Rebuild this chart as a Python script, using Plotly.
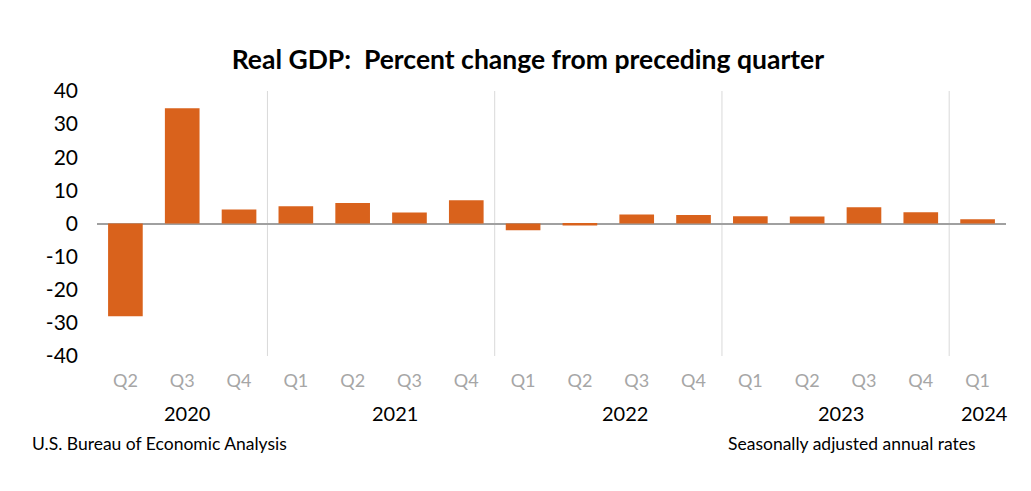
import plotly.graph_objects as go

quarters = ["Q2", "Q3", "Q4", "Q1", "Q2", "Q3", "Q4", "Q1", "Q2", "Q3", "Q4",
            "Q1", "Q2", "Q3", "Q4", "Q1"]
values = [-28.0, 34.8, 4.2, 5.2, 6.2, 3.3, 7.0, -2.0, -0.6, 2.7, 2.6,
          2.2, 2.1, 4.9, 3.4, 1.3]
years = ["2020", "2021", "2022", "2023", "2024"]
year_pos = [1.08, 4.75, 8.8, 12.6, 15.13]
year_breaks = [2.5, 6.5, 10.5, 14.5]
y_ticks = [40, 30, 20, 10, 0, -10, -20, -30, -40]

FONT = "Lato"
x = list(range(len(values)))

fig = go.Figure()
fig.add_trace(go.Bar(x=x, y=values, marker=dict(color="#D9621C", line=dict(width=0)),
                     width=0.61, hoverinfo="skip"))

for b in year_breaks:
    fig.add_shape(type="line", xref="x", yref="paper", x0=b, x1=b, y0=0, y1=1,
                  line=dict(color="#D9D9D9", width=1), layer="below")

for yr, p in zip(years, year_pos):
    fig.add_annotation(x=p, xref="x", y=-0.215, yref="paper", text=yr, showarrow=False,
                       font=dict(family=FONT, size=20, color="#000000"),
                       xanchor="center", yanchor="middle")

fig.add_annotation(x=-0.0737, xref="paper", y=-0.33, yref="paper",
                   text="U.S. Bureau of Economic Analysis",
                   showarrow=False, font=dict(family=FONT, size=17.5, color="#000000"),
                   xanchor="left", yanchor="middle")
fig.add_annotation(x=0.969, xref="paper", y=-0.33, yref="paper",
                   text="Seasonally adjusted annual rates",
                   showarrow=False, font=dict(family=FONT, size=17.5, color="#000000"),
                   xanchor="right", yanchor="middle")

fig.update_layout(
    width=1031, height=491,
    margin=dict(l=97, r=25, t=91, b=135),
    paper_bgcolor="white", plot_bgcolor="white",
    showlegend=False,
    title=dict(text="<b>Real GDP:  Percent change from preceding quarter</b>",
               x=0.512, xanchor="center", y=0.878, yanchor="middle",
               font=dict(family=FONT, size=26.5, color="#000000")),
    xaxis=dict(range=[-0.5, 15.5], tickmode="array", tickvals=x, ticktext=quarters,
               showgrid=False, zeroline=False, showline=False, ticks="",
               tickfont=dict(family=FONT, size=18, color="#A6A6A6"),
               ticklabelstandoff=12),
    yaxis=dict(range=[-40, 40], tickmode="array", tickvals=y_ticks,
               ticktext=[str(v) for v in y_ticks],
               showgrid=False, zeroline=True, zerolinecolor="#A0A0A0", zerolinewidth=1.5,
               showline=False, ticks="",
               tickfont=dict(family=FONT, size=21, color="#000000"),
               ticklabelstandoff=18),
)

fig.write_html("out.html")
